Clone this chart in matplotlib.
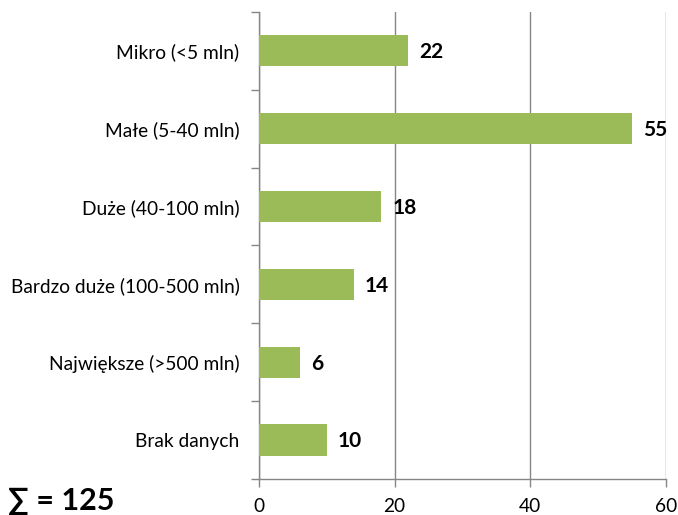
import matplotlib
matplotlib.use("Agg")
import matplotlib.pyplot as plt

categories = ["Mikro (<5 mln)", "Małe (5-40 mln)", "Duże (40-100 mln)",
              "Bardzo duże (100-500 mln)", "Największe (>500 mln)", "Brak danych"]
values = [22, 55, 18, 14, 6, 10]
x_ticks = [0, 20, 40, 60]
total_label = "∑ = 125"

plt.rcParams['font.family'] = ['Lato', 'DejaVu Sans']

fig = plt.figure(figsize=(6.78, 5.15), dpi=100)
ax = fig.add_axes([0.382, 0.070, 0.600, 0.907])

n = len(categories)
pos = list(range(n))
ax.barh(pos, values, height=0.4, color="#9BBB59", zorder=3)
ax.set_ylim(n - 0.5, -0.5)
ax.set_xlim(0, 60)

for p, v in zip(pos, values):
    ax.annotate(str(v), (v, p), xytext=(8, -1), textcoords="offset points",
                va="center", ha="left", fontsize=15, fontweight="bold", color="black")

# category labels without ticks; ticks at boundaries
ax.set_yticks(pos)
ax.set_yticklabels(categories, fontsize=13.8)
ax.tick_params(axis="y", length=0, pad=14)
ax.set_yticks([i - 0.5 for i in range(n + 1)], minor=True)
ax.tick_params(axis="y", which="minor", length=6, color="#868686", width=1)

ax.set_xticks(x_ticks)
ax.set_xticklabels([str(t) for t in x_ticks], fontsize=13.8)
ax.tick_params(axis="x", length=6, color="#868686", width=1, pad=8)
ax.grid(axis="x", color="#868686", linewidth=1, zorder=0)

for s in ["top", "right"]:
    ax.spines[s].set_visible(False)
for s in ["left", "bottom"]:
    ax.spines[s].set_color("#868686")
    ax.spines[s].set_linewidth(1)

fig.text(0.012, 0.028, total_label, fontsize=22, fontweight="bold", ha="left", va="center")

fig.savefig("out.png", dpi=100)
